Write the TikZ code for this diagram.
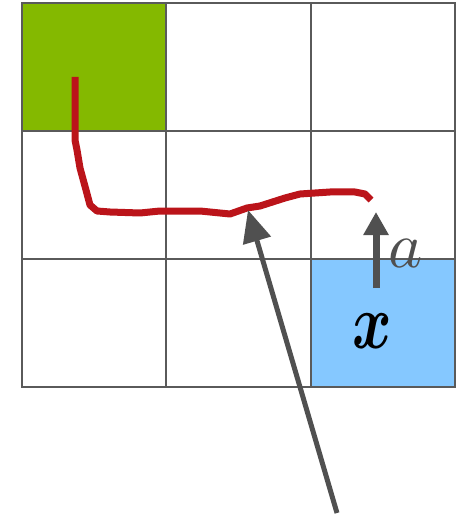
\documentclass[tikz,border=0pt]{standalone}
\usepackage{amsmath}
\usepackage{bm}
\usepackage{tikz}
\usetikzlibrary{arrows.meta, positioning, calc}
\usepackage{xcolor}
\definecolor{gridgray}{HTML}{5A5A5A}
\definecolor{arrowgray}{HTML}{505050}
\definecolor{goalgreen}{HTML}{84B900}
\definecolor{agentblue}{HTML}{85C8FF}
\definecolor{trajred}{HTML}{BB141A}
\tikzstyle{cell}   = [rectangle, minimum width=144.33pt, minimum height=128pt,
                      inner sep=0pt, draw=gridgray, line width=2.3pt, fill=white]
\tikzstyle{bigarrow} = [arrowgray, line width=5pt, -{Triangle[width=28pt,length=32pt]}]
\tikzstyle{actarrow} = [arrowgray, line width=7pt, -{Triangle[width=24pt,length=23pt]}]

\begin{document}
\begin{tikzpicture}[x=1pt, y=-1pt]
  \useasboundingbox (0,0) rectangle (458,521);
  \foreach \r in {1,2,3}
    \foreach \c in {1,2,3}
      \node (cell-\r-\c) [cell] at ({22+144.33*(\c-0.5)}, {3+128*(\r-0.5)}) {};
  \node (goal)  [cell, fill=goalgreen] at (cell-1-1) {};
  \node (state) [cell, fill=agentblue] at (cell-3-3) {};

  % trajectory
  \draw[trajred, line width=7pt, line join=round]
    (75,77) -- (75,140) -- (77,150) -- (80,168) -- (86,190) -- (90,205)
    -- (97,211) -- (110,212) -- (140,213) -- (160,211) -- (200,211)
    -- (230,214) -- (247,208) -- (260,206) -- (285,198) -- (300,194)
    -- (330,192) -- (355,192) -- (365,194) -- (371,200);

  \coordinate (tail) at (337,513);
  \coordinate (hit)  at (248,210);
  \draw[bigarrow] (tail) -- (hit);

  \coordinate (act-start) at (376,288);
  \coordinate (act-end)   at (376,212);
  \draw[actarrow] (act-start) -- (act-end);
  \node (a) [arrowgray, scale=6.5] at (406,254) {$a$};
  \node (x) [xscale=6, yscale=7.8] at (372,331) {$\bm{x}$};
\end{tikzpicture}
\end{document}
